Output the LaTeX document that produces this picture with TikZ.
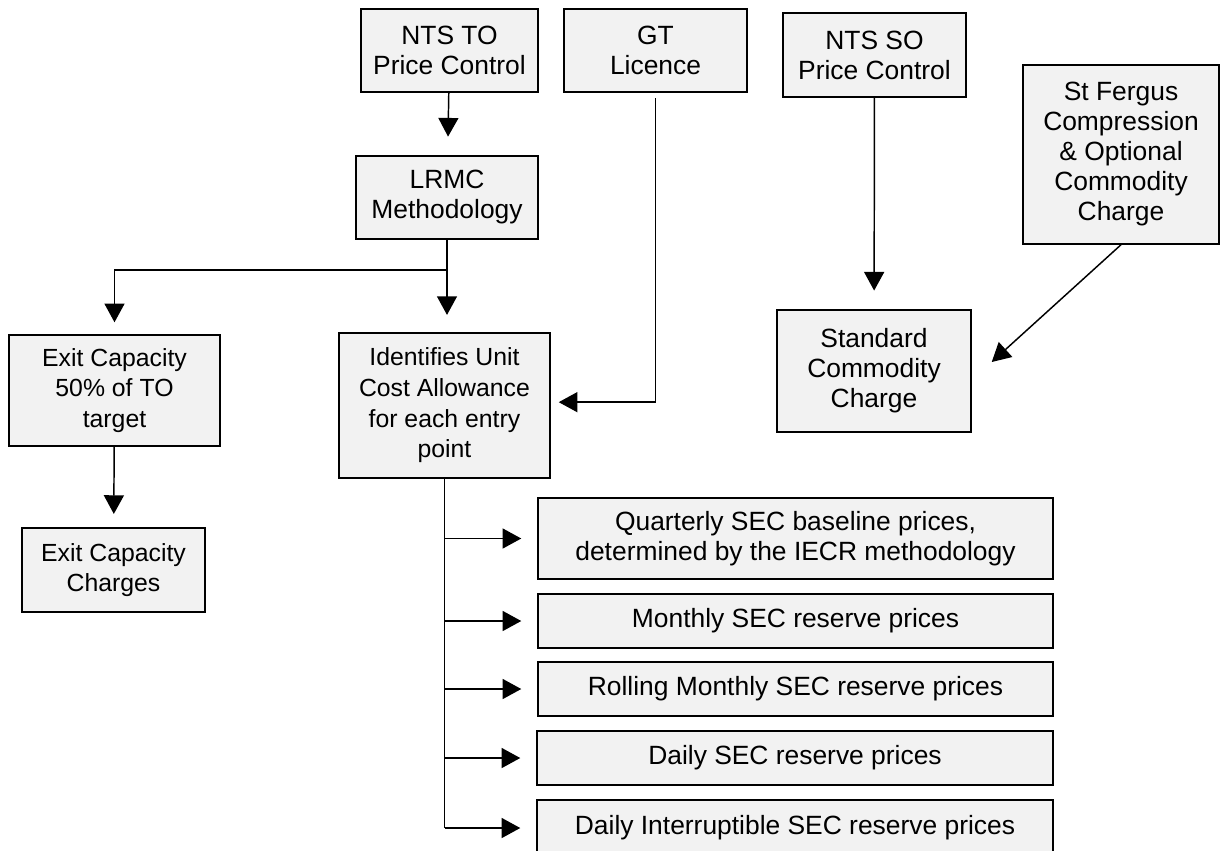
\documentclass[tikz,border=0pt]{standalone}
\usepackage{fontspec}
\setmainfont{Liberation Sans}
\usetikzlibrary{arrows.meta}

\begin{document}
\begin{tikzpicture}[x=0.75pt,y=-0.75pt,line width=1.1pt,
    box/.style={draw,fill=boxfill,align=center,inner sep=0pt,
      font=\fontsize{19.8}{22.5}\selectfont},
    midtext/.style={font=\fontsize{18.6}{23}\selectfont},
    arr/.style={-{Triangle[length=14pt,width=15pt]}}]

  \definecolor{boxfill}{RGB}{242,242,242} % light grey

  % Frame
  \useasboundingbox (0,0) rectangle (1220,850);

  % Draw top boxes
  \node[box,minimum width=177*0.75pt,minimum height=83*0.75pt]
      (ntsto) at (449.5,50.5) {NTS TO\\Price Control};
  \node[box,minimum width=183*0.75pt,minimum height=83*0.75pt]
      (gt) at (655.5,50.5) {GT\\Licence};
  \node[box,minimum width=183*0.75pt,minimum height=84*0.75pt]
      (ntsso) at (874.5,55) {NTS SO\\Price Control};
  \node[box,minimum width=196*0.75pt,minimum height=179*0.75pt]
      (fergus) at (1121,154.5) {St Fergus\\Compression\\\& Optional\\Commodity\\Charge};

  % Draw middle boxes
  \node[box,minimum width=182*0.75pt,minimum height=83*0.75pt]
      (lrmc) at (447,197.5) {LRMC\\Methodology};
  \node[box,midtext,minimum width=211*0.75pt,minimum height=111*0.75pt]
      (exitcap) at (114.5,390.5) {Exit Capacity\\50\% of TO\\target};
  \node[box,midtext,minimum width=211*0.75pt,minimum height=145*0.75pt]
      (units) at (444.5,405.5) {Identifies Unit\\Cost Allowance\\for each entry\\point};
  \node[box,minimum width=194*0.75pt,minimum height=122*0.75pt]
      (std) at (874,371) {Standard\\Commodity\\Charge};
  \node[box,midtext,minimum width=183*0.75pt,minimum height=84*0.75pt]
      (exitchg) at (113.5,570) {Exit Capacity\\Charges};

  % Draw price boxes
  \node[box,minimum width=515*0.75pt,minimum height=81*0.75pt]
      (quarterly) at (795.5,538.5) {Quarterly SEC baseline prices,\\determined by the IECR methodology};
  \node[box,minimum width=515*0.75pt,minimum height=54*0.75pt]
      (monthly) at (795.5,621) {Monthly SEC reserve prices};
  \node[box,minimum width=515*0.75pt,minimum height=54*0.75pt]
      (rolling) at (795.5,689) {Rolling Monthly SEC reserve prices};
  \node[box,minimum width=516*0.75pt,minimum height=54*0.75pt]
      (daily) at (795,758) {Daily SEC reserve prices};
  \node[box,minimum width=516*0.75pt,minimum height=56*0.75pt]
      (interr) at (795,828) {Daily Interruptible SEC reserve prices};

  % Draw TO branch
  \draw[arr,shorten >=14pt] (ntsto) -- (lrmc);
  \coordinate (fork) at (447,270);
  \draw (lrmc.south) -- (fork);
  \draw[arr,shorten >=9pt] (fork) -| (exitcap.north);
  \draw[arr,shorten >=13pt] (fork) -- (fork |- units.north);
  \draw[arr,shorten >=10pt] (exitcap) -- (exitchg);

  % Draw licence line
  \draw[arr,shorten <=4pt,shorten >=6pt] (gt.south) |- ([yshift=2.5pt]units.east);

  % Draw SO branch
  \draw[arr,shorten >=14pt] (ntsso) -- (std);
  \draw[arr] (fergus.south) -- ([shift={(20,-9)}]std.east);

  % Draw price branches
  \draw (units.south) -- (units.south |- interr.west);
  \foreach \b in {quarterly,monthly,rolling,daily,interr}
    \draw[arr,shorten >=12pt] (units.south |- \b.west) -- (\b.west);

\end{tikzpicture}
\end{document}
